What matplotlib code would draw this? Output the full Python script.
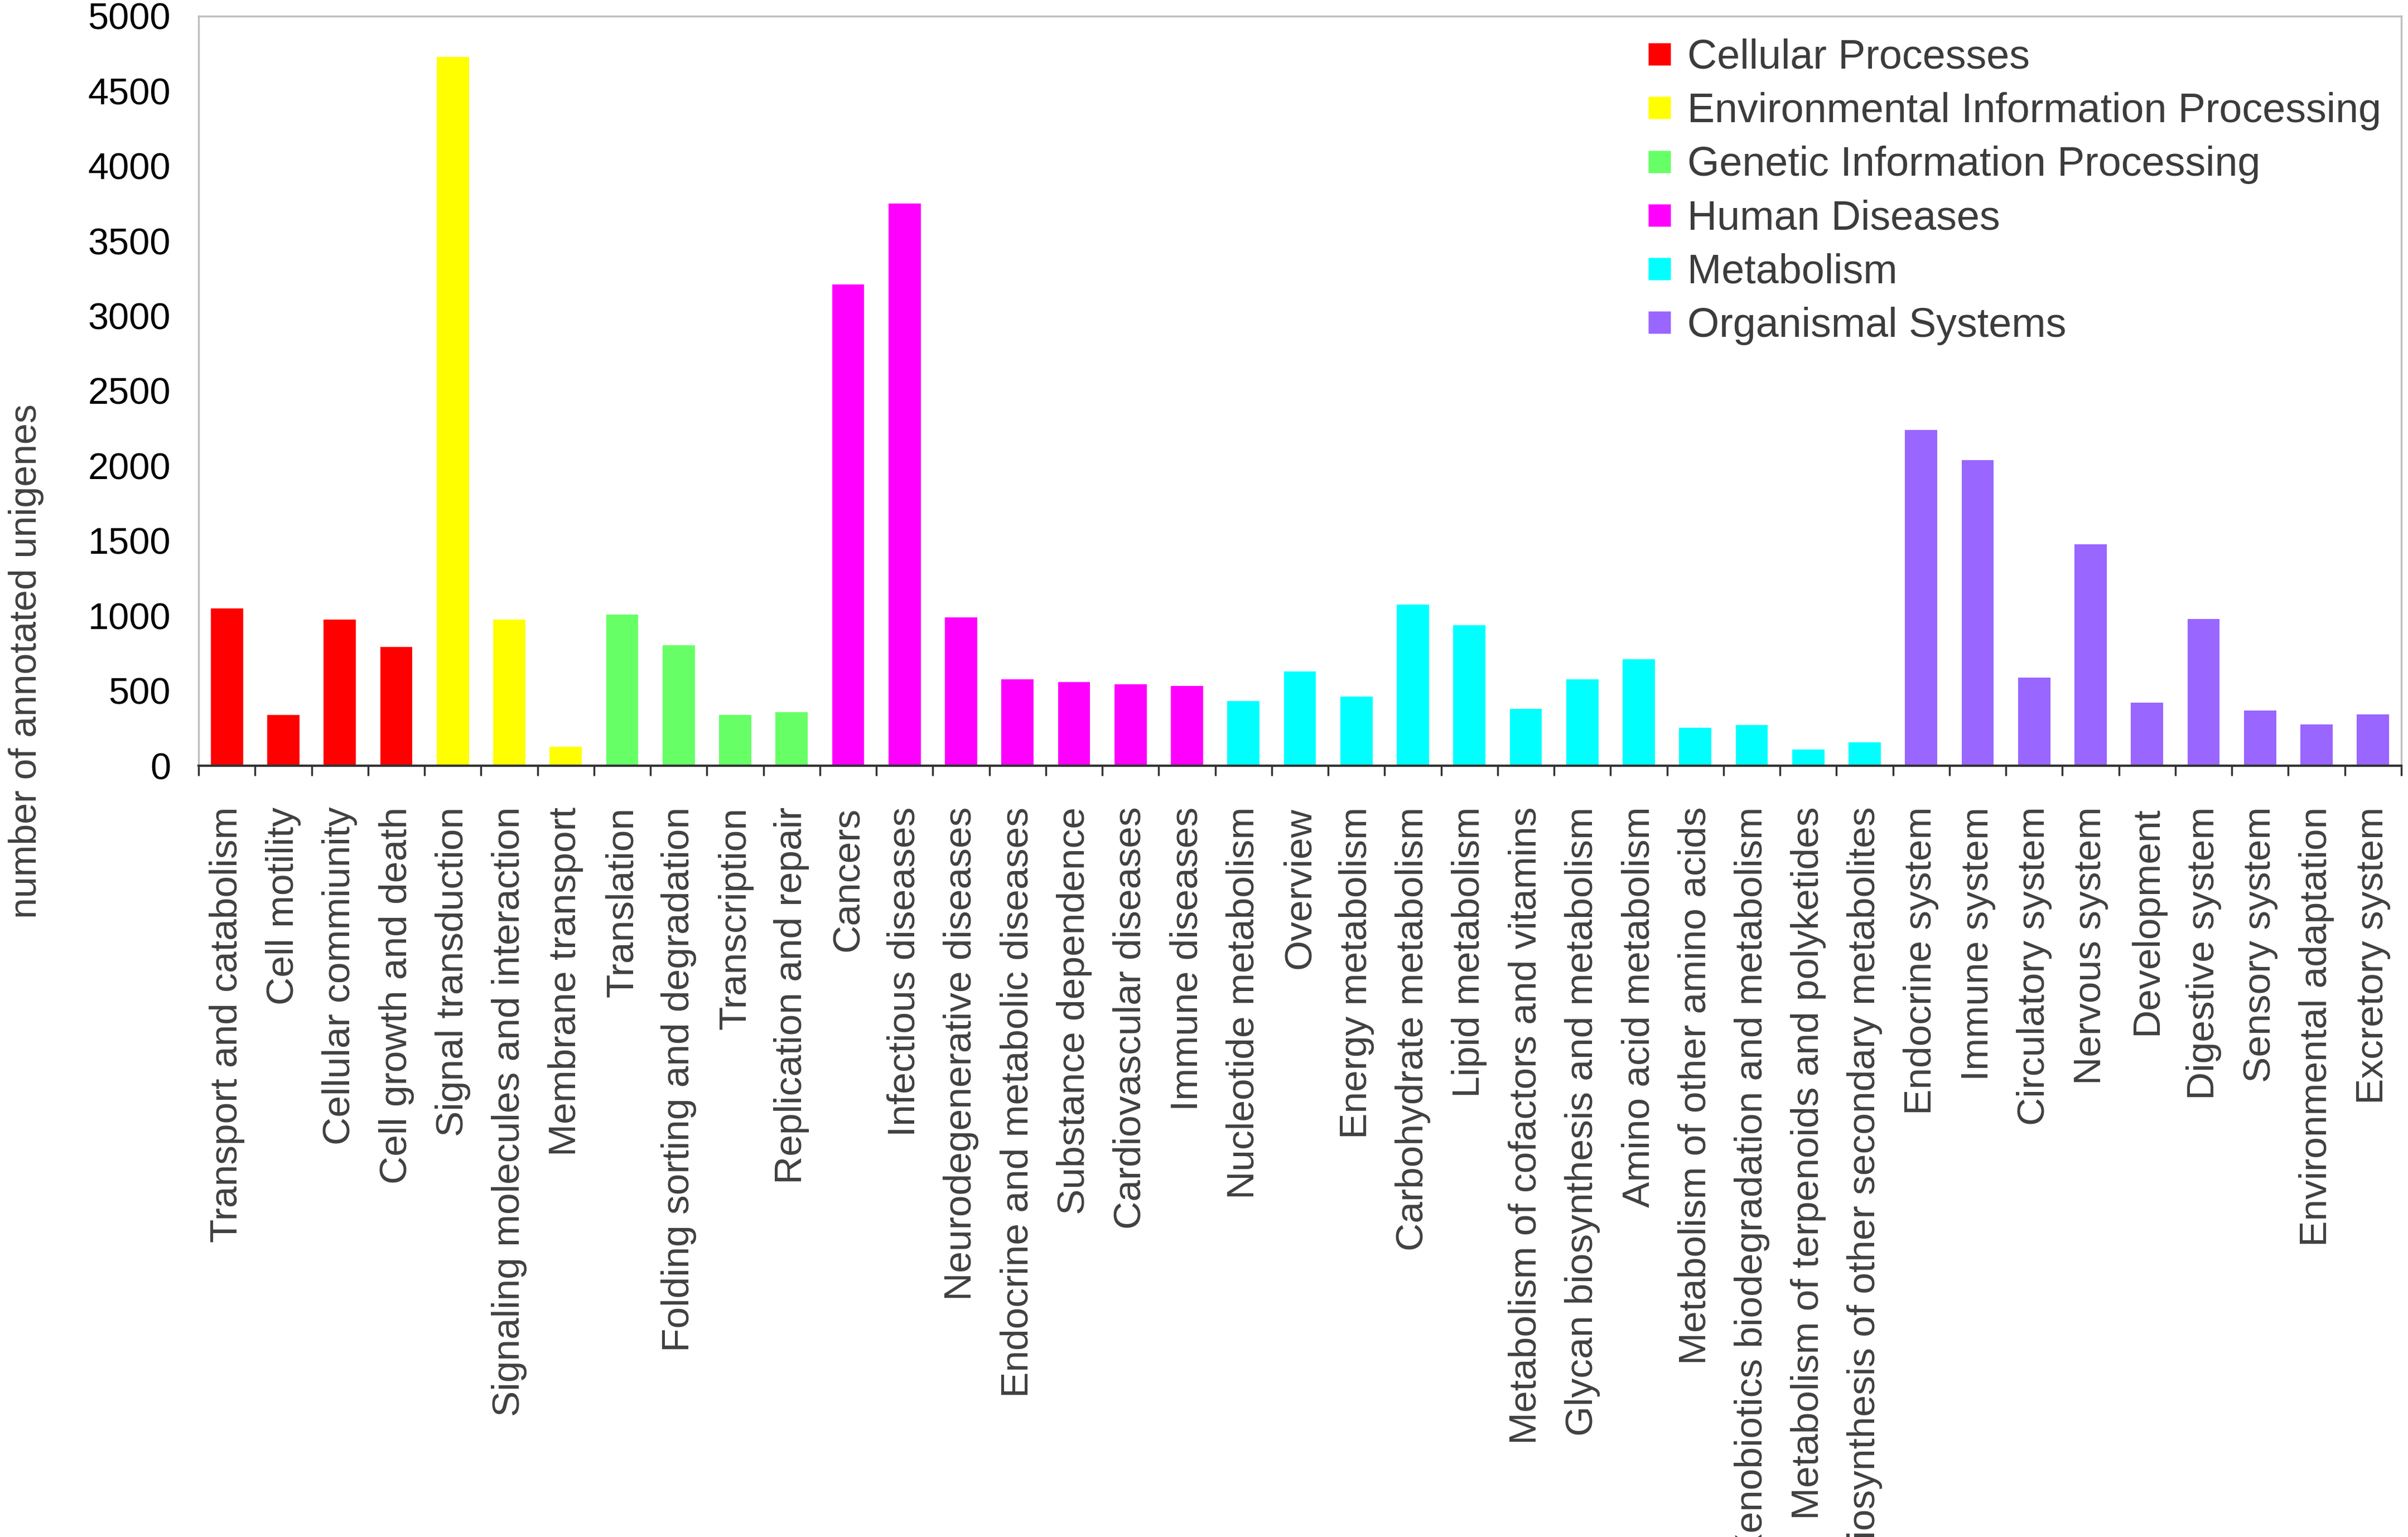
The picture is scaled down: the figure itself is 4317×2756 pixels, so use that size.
import matplotlib
matplotlib.use("Agg")
import matplotlib.pyplot as plt
from matplotlib.lines import Line2D
import numpy as np

plt.rcParams['font.family'] = ['Liberation Sans', 'DejaVu Sans']

categories = [
    "Transport and catabolism", "Cell motility", "Cellular commiunity", "Cell growth and death",
    "Signal transduction", "Signaling molecules and interaction", "Membrane transport",
    "Translation", "Folding sorting and degradation", "Transcription", "Replication and repair",
    "Cancers", "Infectious diseases", "Neurodegenerative diseases", "Endocrine and metabolic diseases",
    "Substance dependence", "Cardiovascular diseases", "Immune diseases",
    "Nucleotide metabolism", "Overview", "Energy metabolism", "Carbohydrate metabolism",
    "Lipid metabolism", "Metabolism of cofactors and vitamins", "Glycan biosynthesis and metabolism",
    "Amino acid metabolism", "Metabolism of other amino acids",
    "Xenobiotics biodegradation and metabolism", "Metabolism of terpenoids and polyketides",
    "Biosynthesis of other secondary metabolites",
    "Endocrine system", "Immune system", "Circulatory system", "Nervous system", "Development",
    "Digestive system", "Sensory system", "Environmental adaptation", "Excretory system",
]
values = [
    1050, 337, 976, 791,
    4727, 973, 125,
    1010, 805, 340, 357,
    3212, 3751, 990, 576, 559, 545, 532,
    431, 630, 461, 1074, 939, 380, 576, 710, 253, 273, 108, 155,
    2239, 2040, 589, 1478, 421, 980, 367, 276, 343,
]
groups = (["Cellular Processes"] * 4 + ["Environmental Information Processing"] * 3
          + ["Genetic Information Processing"] * 4 + ["Human Diseases"] * 7
          + ["Metabolism"] * 12 + ["Organismal Systems"] * 9)
group_names = ["Cellular Processes", "Environmental Information Processing",
               "Genetic Information Processing", "Human Diseases", "Metabolism",
               "Organismal Systems"]
group_colors = ["#FF0000", "#FFFF00", "#66FF66", "#FF00FF", "#00FFFF", "#9966FF"]
yticks = [0, 500, 1000, 1500, 2000, 2500, 3000, 3500, 4000, 4500, 5000]

cmap = dict(zip(group_names, group_colors))
colors = [cmap[g] for g in groups]

fig = plt.figure(figsize=(43.17, 27.56), dpi=100)
ax = fig.add_axes([0.0825, 0.5018, 0.9147, 0.4877])

x = np.arange(len(categories))
ax.bar(x, values, width=0.57, color=colors, edgecolor='none')

ax.set_xlim(-0.5, len(categories) - 0.5)
ax.set_ylim(0, 5000)
ax.set_yticks(yticks)
ax.set_yticklabels([str(v) for v in yticks])
ax.tick_params(axis='y', length=0, pad=36, labelsize=48, labelcolor='black')

ax.set_xticks(x)
ax.set_xticklabels(categories, rotation=90, fontsize=50, color='#404040')
ax.tick_params(axis='x', which='major', length=0, pad=53)
ax.set_xticks(np.arange(-0.5, len(categories)), minor=True)
ax.tick_params(axis='x', which='minor', length=13, width=2.5, direction='out', color='#333333')

for s in ['left', 'top', 'right']:
    ax.spines[s].set_color('#BFBFBF')
    ax.spines[s].set_linewidth(2.5)
ax.spines['bottom'].set_color('#333333')
ax.spines['bottom'].set_linewidth(3)

fig.text(0.011, 0.570, "number of annotated unigenes", rotation=90, ha='center', va='center',
         fontsize=49, color='#404040')

handles = [Line2D([0], [0], marker='s', linestyle='none', markersize=29,
                  markerfacecolor=c, markeredgecolor='none') for c in group_colors]
fig.legend(handles, group_names, loc='upper left', bbox_to_anchor=(0.684, 0.975),
           frameon=False, fontsize=53, labelcolor='#3c3c3c', handlelength=0.6,
           handletextpad=0.38, labelspacing=0.37, borderpad=0, borderaxespad=0)

fig.savefig("out.png", dpi=100)
